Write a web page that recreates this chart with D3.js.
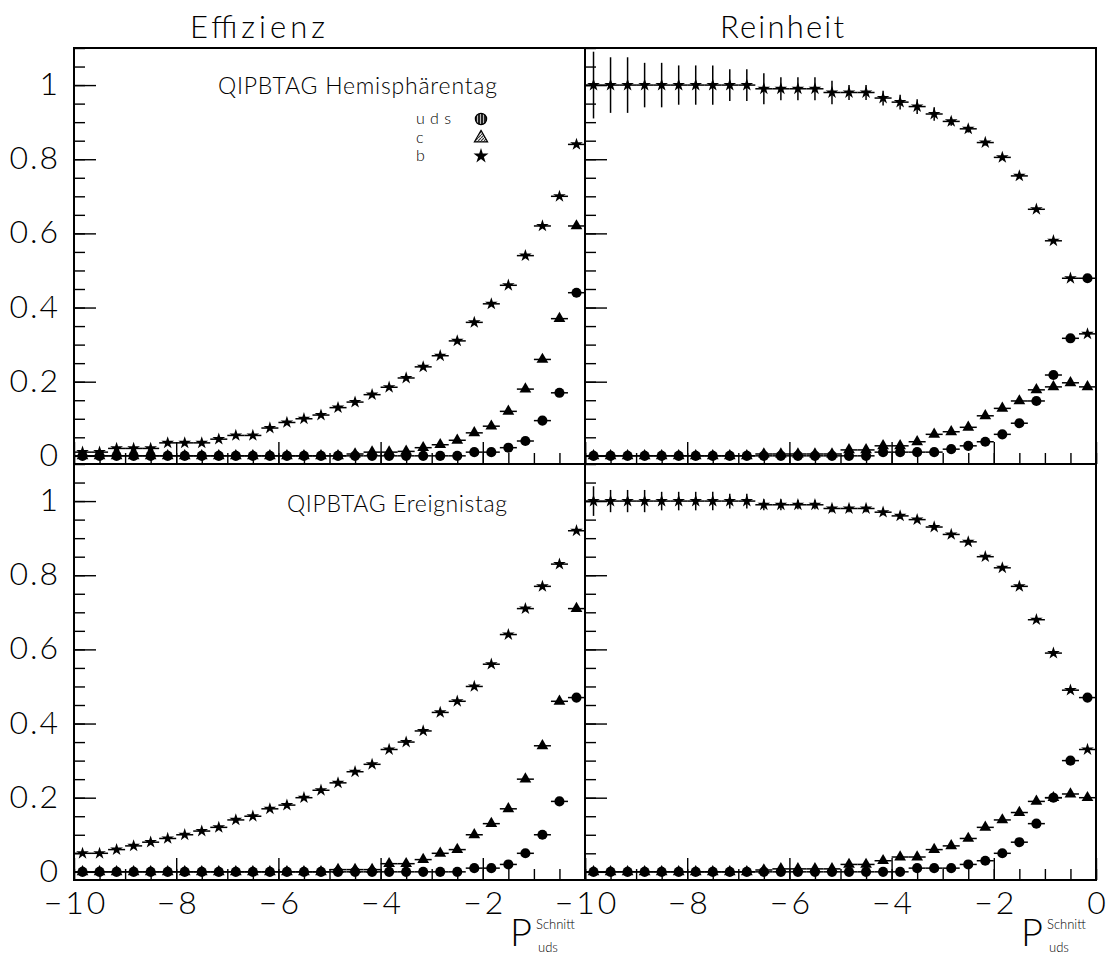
<!DOCTYPE html>
<html>
<head>
<meta charset="utf-8">
<script src="https://cdn.jsdelivr.net/npm/d3@7"></script>
<style>
  body { margin: 0; background: #fff; }
  text { font-family: Lato, "DejaVu Sans", sans-serif; font-weight: 300; fill: #000; }
</style>
</head>
<body>
<div id="chart"></div>
<script>
// 1: DATA
// 30 bins of width 1/3 between -10 and 0 (P_uds cut value)
const binLow = -10, binWidth = 1 / 3, nBins = 30;
const binCenters = d3.range(nBins).map(i => binLow + (i + 0.5) * binWidth);

const xTickLabels = [-10, -8, -6, -4, -2, 0];
const yTickLabels = [0, 0.2, 0.4, 0.6, 0.8, 1];
const columnTitles = ["Effizienz", "Reinheit"];
const rowTitles = ["QIPBTAG Hemisphärentag", "QIPBTAG Ereignistag"];
const legendLabels = ["uds", "c", "b"];

// Effizienz, Hemisphaerentag
const effHemiUds = [0,0,0,0,0,0,0,0,0,0,0,0,0,0,0,0,0,0,0,0,0,0,0,0.01,0.01,0.022,0.04,0.095,0.17,0.44];
const effHemiC   = [0,0,0,0,0,0,0,0,0,0,0,0,0,0,0,0,0.005,0.01,0.01,0.012,0.022,0.03,0.042,0.062,0.08,0.12,0.18,0.26,0.37,0.62];
const effHemiB   = [0.01,0.01,0.02,0.02,0.02,0.035,0.035,0.035,0.045,0.055,0.055,0.075,0.09,0.10,0.11,0.13,0.145,0.165,0.185,0.21,0.24,0.27,0.31,0.36,0.41,0.46,0.54,0.62,0.70,0.84];

// Reinheit, Hemisphaerentag
const purHemiUds = [0,0,0,0,0,0,0,0,0,0,0,0,0,0,0,0,0,0.01,0.01,0.01,0.01,0.018,0.027,0.038,0.058,0.088,0.148,0.218,0.317,0.479];
const purHemiC   = [0,0,0,0,0,0,0,0,0,0,0.005,0.005,0.005,0.005,0.005,0.016,0.016,0.027,0.027,0.038,0.058,0.065,0.077,0.108,0.128,0.148,0.178,0.186,0.197,0.186];
const purHemiB   = [1,1,1,1,1,1,1,1,1,1,0.99,0.99,0.99,0.99,0.98,0.98,0.98,0.965,0.954,0.942,0.922,0.902,0.882,0.845,0.805,0.755,0.665,0.58,0.479,0.329];
const purHemiBErr = [0.09,0.075,0.075,0.06,0.06,0.053,0.053,0.053,0.043,0.043,0.042,0.031,0.031,0.031,0.032,0.02,0.02,0.02,0.02,0.02,0.018,0.012,0.01,0.008,0.006,0.005,0.004,0.004,0.004,0.004];

// Effizienz, Ereignistag
const effEvtUds = [0,0,0,0,0,0,0,0,0,0,0,0,0,0,0,0,0,0,0,0,0,0,0,0.01,0.01,0.02,0.05,0.10,0.19,0.47];
const effEvtC   = [0,0,0,0,0,0,0,0,0,0,0,0,0,0,0,0.006,0.006,0.006,0.022,0.022,0.033,0.05,0.06,0.10,0.13,0.17,0.25,0.34,0.46,0.71];
const effEvtB   = [0.05,0.05,0.06,0.07,0.08,0.09,0.10,0.11,0.12,0.14,0.15,0.17,0.18,0.20,0.22,0.24,0.27,0.29,0.33,0.35,0.38,0.43,0.46,0.50,0.56,0.64,0.71,0.77,0.83,0.92];

// Reinheit, Ereignistag
const purEvtUds = [0,0,0,0,0,0,0,0,0,0,0,0,0,0,0,0,0,0,0,0.01,0.01,0.01,0.02,0.03,0.05,0.08,0.13,0.20,0.30,0.47];
const purEvtC   = [0,0,0,0,0,0,0,0,0,0,0.005,0.008,0.008,0.008,0.008,0.02,0.02,0.03,0.04,0.04,0.06,0.07,0.09,0.12,0.14,0.16,0.19,0.20,0.21,0.20];
const purEvtB   = [1,1,1,1,1,1,1,1,1,1,0.99,0.99,0.99,0.99,0.98,0.98,0.98,0.97,0.96,0.95,0.93,0.91,0.89,0.85,0.82,0.77,0.68,0.59,0.49,0.33];
const purEvtBErr = [0.04,0.03,0.03,0.03,0.025,0.025,0.025,0.025,0.02,0.02,0.015,0.015,0.012,0.012,0.01,0.01,0.01,0.008,0.008,0.006,0.005,0.005,0.004,0.004,0.004,0.004,0.004,0.004,0.004,0.004];

// 2: LAYOUT
const width = 1110, height = 958;
const cols = [{ x0: 74, x1: 585 }, { x0: 585, x1: 1096 }];
const rows = [{ y0: 48, y1: 464 }, { y0: 464, y1: 880 }];

const panels = [
  { col: 0, row: 0, uds: effHemiUds, c: effHemiC, b: effHemiB, bErr: null },
  { col: 1, row: 0, uds: purHemiUds, c: purHemiC, b: purHemiB, bErr: purHemiBErr },
  { col: 0, row: 1, uds: effEvtUds, c: effEvtC, b: effEvtB, bErr: null },
  { col: 1, row: 1, uds: purEvtUds, c: purEvtC, b: purEvtB, bErr: purEvtBErr }
];

const markerType = { uds: d3.symbolCircle, c: d3.symbolTriangle, b: d3.symbolStar };
const markerSize = { uds: 80, c: 60, b: 50 };

const svg = d3.select("#chart").append("svg")
  .attr("width", width)
  .attr("height", height);

// hatch patterns for the legend markers
const defs = svg.append("defs");
defs.append("pattern")
  .attr("id", "vhatch").attr("patternUnits", "userSpaceOnUse")
  .attr("width", 3).attr("height", 3)
  .call(p => {
    p.append("rect").attr("width", 3).attr("height", 3).attr("fill", "#222");
    p.append("rect").attr("x", 2).attr("width", 1).attr("height", 3).attr("fill", "#bbb");
  });
defs.append("pattern")
  .attr("id", "dhatch").attr("patternUnits", "userSpaceOnUse")
  .attr("width", 3).attr("height", 3)
  .call(p => {
    p.append("rect").attr("width", 3).attr("height", 3).attr("fill", "#eee");
    p.append("path").attr("d", "M0,3 L3,0").attr("stroke", "#333").attr("stroke-width", 1.1);
  });

const yMajor = d3.range(0, 1.101, 0.2).map(v => +v.toFixed(2));
const yMinor = d3.range(0, 1.101, 0.05).map(v => +v.toFixed(2));
const xMajor = d3.range(-10, 0.01, 2);
const xMinor = d3.range(-10, 0.01, 0.5);

panels.forEach((p, i) => {
  const c = cols[p.col], r = rows[p.row];
  const x = d3.scaleLinear().domain([-10, 0]).range([c.x0, c.x1]);
  const y = d3.scaleLinear().domain([-0.022, 1.1]).range([r.y1, r.y0]);

  const g = svg.append("g");

  defs.append("clipPath").attr("id", "clip" + i)
    .append("rect")
    .attr("x", c.x0).attr("y", r.y0)
    .attr("width", c.x1 - c.x0).attr("height", r.y1 - r.y0);

  // y ticks (pointing inwards)
  g.append("g")
    .attr("transform", `translate(${c.x0},0)`)
    .call(d3.axisLeft(y).tickValues(yMinor).tickSize(-11).tickFormat(""))
    .call(a => a.select(".domain").remove());
  const yAx = g.append("g")
    .attr("transform", `translate(${c.x0},0)`)
    .call(d3.axisLeft(y).tickValues(yMajor).tickSize(-22)
      .tickPadding(14)
      .tickFormat(d => (p.col === 0 && yTickLabels.includes(d)) ? (d === 0 || d === 1 ? String(d) : d3.format(".1f")(d)) : ""))
    .call(a => a.select(".domain").remove());
  yAx.selectAll("text").style("font-size", "32px").style("letter-spacing", "2px").attr("dy", "0.3em");

  // x ticks (pointing up)
  g.append("g")
    .attr("transform", `translate(0,${r.y1})`)
    .call(d3.axisBottom(x).tickValues(xMinor).tickSize(-11).tickFormat(""))
    .call(a => a.select(".domain").remove());
  const xAx = g.append("g")
    .attr("transform", `translate(0,${r.y1})`)
    .call(d3.axisBottom(x).tickValues(xMajor).tickSize(-22).tickPadding(11)
      .tickFormat(d => {
        if (p.row !== 1) return "";
        if (p.col === 0 && d === 0) return "";
        return xTickLabels.includes(d) ? (d < 0 ? "\u2212" + Math.abs(d) : String(d)) : "";
      }))
    .call(a => a.select(".domain").remove());
  xAx.selectAll("text").style("font-size", "32px").style("letter-spacing", "3px").attr("dx", "1.5");

  svg.selectAll(".tick line").attr("stroke", "#000").attr("stroke-width", 1.4);

  // data
  const pts = g.append("g").attr("clip-path", `url(#clip${i})`);
  ["uds", "c", "b"].forEach(key => {
    const vals = p[key];
    const errs = key === "b" ? p.bErr : null;
    const data = vals.map((v, k) => ({ x: binCenters[k], v, e: errs ? errs[k] : 0 }));

    // horizontal bars: bin width
    pts.selectAll(null).data(data).enter().append("line")
      .attr("x1", d => x(d.x - binWidth / 2))
      .attr("x2", d => x(d.x + binWidth / 2))
      .attr("y1", d => y(d.v)).attr("y2", d => y(d.v))
      .attr("stroke", "#000").attr("stroke-width", 1.5);

    // vertical error bars
    pts.selectAll(null).data(data.filter(d => d.e > 0)).enter().append("line")
      .attr("x1", d => x(d.x)).attr("x2", d => x(d.x))
      .attr("y1", d => y(d.v - d.e)).attr("y2", d => y(d.v + d.e))
      .attr("stroke", "#000").attr("stroke-width", 1.5);

    pts.selectAll(null).data(data).enter().append("path")
      .attr("transform", d => `translate(${x(d.x)},${y(d.v)})`)
      .attr("d", d3.symbol().type(markerType[key]).size(markerSize[key]))
      .attr("fill", "#000");
  });

  // frame
  g.append("rect")
    .attr("x", c.x0).attr("y", r.y0)
    .attr("width", c.x1 - c.x0).attr("height", r.y1 - r.y0)
    .attr("fill", "none").attr("stroke", "#000").attr("stroke-width", 2);
});

// 3: LABELS
svg.append("text").attr("x", 190).attr("y", 38)
  .attr("textLength", 135).attr("lengthAdjust", "spacing")
  .style("font-size", "31px").text(columnTitles[0]);
svg.append("text").attr("x", 720).attr("y", 38)
  .attr("textLength", 124).attr("lengthAdjust", "spacing")
  .style("font-size", "31px").text(columnTitles[1]);

svg.append("text").attr("x", 218).attr("y", 94)
  .attr("textLength", 279).attr("lengthAdjust", "spacing")
  .style("font-size", "23px").text(rowTitles[0]);
svg.append("text").attr("x", 287).attr("y", 512)
  .attr("textLength", 220).attr("lengthAdjust", "spacing")
  .style("font-size", "23px").text(rowTitles[1]);

// legend
const legendY = [119, 138, 156];
legendLabels.forEach((lab, i) => {
  svg.append("text").attr("x", 416).attr("y", legendY[i] + 5)
    .attr("textLength", lab.length === 3 ? 35 : 10).attr("lengthAdjust", "spacing")
    .style("font-size", "16px").text(lab);
});
svg.append("path")
  .attr("transform", `translate(481,${legendY[0]})`)
  .attr("d", d3.symbol().type(d3.symbolCircle).size(100))
  .attr("fill", "url(#vhatch)").attr("stroke", "#000").attr("stroke-width", 1.2);
svg.append("path")
  .attr("transform", `translate(481,${legendY[1]})`)
  .attr("d", d3.symbol().type(d3.symbolTriangle).size(75))
  .attr("fill", "url(#dhatch)").attr("stroke", "#000").attr("stroke-width", 1.2);
svg.append("path")
  .attr("transform", `translate(481,${legendY[2]})`)
  .attr("d", d3.symbol().type(d3.symbolStar).size(70))
  .attr("fill", "#000");

// axis titles P_uds^Schnitt
cols.forEach(c => {
  const px = c.x1 - 75;
  svg.append("text").attr("x", px).attr("y", 946).style("font-size", "38px").text("P");
  svg.append("text").attr("x", px + 26).attr("y", 929).style("font-size", "13px").text("Schnitt");
  svg.append("text").attr("x", px + 28).attr("y", 952).style("font-size", "13px").text("uds");
});
</script>
</body>
</html>
